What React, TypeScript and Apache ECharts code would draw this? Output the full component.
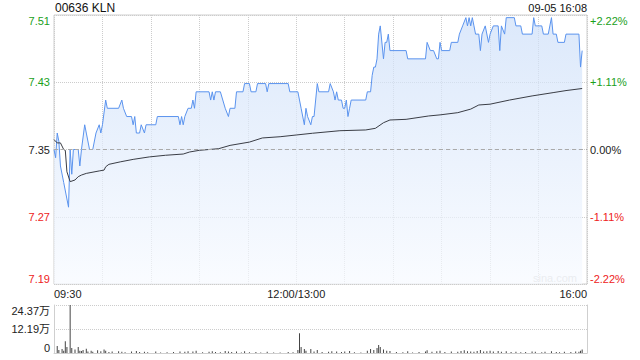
import React, { useEffect, useRef } from "react";
import * as echarts from "echarts";

const PREV_CLOSE = 7.35;
const HALF_RANGE = 0.1632;
const TITLE = "00636 KLN";
const STAMP = "09-05 16:08";
const WATERMARK = "sina.com";

const timeTickMinutes = [0, 150, 330];
const timeTickLabels = ["09:30", "12:00/13:00", "16:00"];

const priceMinutes = [
  0, 1, 2, 3, 4, 6, 8, 9, 10, 11, 12, 15, 16, 17, 19, 20, 22, 24, 26, 28, 29, 30, 32, 33, 40, 42, 43, 45, 48, 49,
  50, 51, 53, 54, 56, 57, 63, 64, 77, 78, 79, 80, 81, 83, 85, 86, 87, 88, 96, 97, 98, 99, 100, 103, 106, 108, 109,
  112, 113, 117, 118, 121, 122, 125, 126, 131, 132, 133, 145, 146, 151, 153, 155, 156, 157, 159, 160, 161, 163, 164,
  170, 171, 173, 174, 175, 176, 178, 179, 180, 181, 182, 183, 184, 193, 194, 196, 197, 198, 199, 200, 201, 202, 204,
  205, 206, 207, 208, 218, 219, 230, 231, 233, 235, 237, 238, 239, 240, 245, 246, 250, 251, 253, 255, 256, 257, 258,
  259, 260, 261, 263, 264, 265, 267, 269, 270, 272, 275, 276, 277, 279, 280, 285, 286, 289, 290, 296, 297, 298, 302,
  303, 306, 308, 309, 311, 312, 316, 317, 325, 326, 327,
];
const prices = [
  7.35, 7.34, 7.37, 7.36, 7.33, 7.31, 7.29, 7.28, 7.35, 7.32, 7.35, 7.35, 7.33, 7.35, 7.38, 7.37, 7.35, 7.35, 7.37,
  7.38, 7.37, 7.38, 7.41, 7.4, 7.4, 7.41, 7.4, 7.39, 7.39, 7.38, 7.39, 7.37, 7.37, 7.38, 7.37, 7.38, 7.38, 7.39,
  7.39, 7.38, 7.39, 7.38, 7.39, 7.4, 7.4, 7.41, 7.4, 7.42, 7.42, 7.41, 7.42, 7.41, 7.42, 7.42, 7.4, 7.39, 7.4, 7.4,
  7.42, 7.42, 7.43, 7.43, 7.42, 7.42, 7.43, 7.43, 7.42, 7.43, 7.43, 7.42, 7.42, 7.4, 7.38, 7.4, 7.39, 7.38, 7.39,
  7.39, 7.43, 7.42, 7.42, 7.43, 7.42, 7.41, 7.42, 7.41, 7.41, 7.4, 7.4, 7.41, 7.39, 7.4, 7.41, 7.41, 7.42, 7.42,
  7.44, 7.45, 7.45, 7.46, 7.49, 7.5, 7.46, 7.48, 7.48, 7.49, 7.47, 7.47, 7.46, 7.46, 7.48, 7.47, 7.47, 7.46, 7.46,
  7.48, 7.47, 7.47, 7.48, 7.48, 7.49, 7.5, 7.51, 7.5, 7.51, 7.5, 7.51, 7.5, 7.49, 7.49, 7.47, 7.49, 7.5, 7.48, 7.49,
  7.5, 7.5, 7.47, 7.5, 7.49, 7.51, 7.51, 7.5, 7.5, 7.49, 7.49, 7.51, 7.5, 7.5, 7.49, 7.49, 7.51, 7.49, 7.49, 7.48,
  7.48, 7.49, 7.49, 7.45, 7.47,
];

const avgMinutes = [
  0, 2, 4, 6, 7, 8, 10, 13, 15, 17, 20, 28, 31, 32, 34, 41, 49, 59, 69, 80, 84, 90, 102, 109, 121, 129, 140, 150,
  160, 177, 193, 199, 204, 208, 218, 232, 239, 250, 258, 263, 270, 282, 296, 309, 317, 327,
];
const avgPrices = [
  7.362, 7.358, 7.358, 7.35, 7.349, 7.323, 7.311, 7.313, 7.317, 7.319, 7.321, 7.324, 7.325, 7.329, 7.332, 7.335,
  7.338, 7.341, 7.343, 7.3445, 7.347, 7.349, 7.351, 7.355, 7.359, 7.364, 7.3655, 7.3676, 7.3697, 7.3728, 7.3737,
  7.3757, 7.3825, 7.3858, 7.3866, 7.3907, 7.392, 7.3947, 7.399, 7.404, 7.405, 7.41, 7.415, 7.419, 7.4215, 7.424,
];

const VOL_MAX = 243700;
const volMinutes = [
  2, 3, 5, 6, 7, 8, 10, 11, 13, 15, 16, 17, 18, 20, 21, 23, 24, 27, 29, 31, 32, 34, 36, 40, 42, 44, 48, 51, 53, 56,
  58, 63, 66, 70, 74, 78, 81, 83, 86, 88, 92, 96, 98, 100, 103, 106, 108, 110, 113, 116, 118, 121, 125, 128, 132,
  136, 140, 145, 148, 151, 152, 153, 155, 156, 159, 161, 163, 166, 170, 172, 175, 178, 180, 183, 186, 190, 194, 196,
  198, 200, 201, 202, 204, 206, 208, 212, 216, 219, 222, 226, 230, 231, 234, 237, 239, 242, 246, 250, 252, 254, 256,
  258, 260, 262, 264, 266, 268, 270, 272, 275, 277, 280, 283, 286, 289, 292, 296, 298, 302, 304, 308, 311, 313, 316,
  320, 323, 325, 326, 327,
];
const volValues = [
  35000, 15000, 20000, 12000, 60000, 30000, 243700, 25000, 18000, 30000, 12000, 10000, 15000, 22000, 8000, 12000, 6000,
  14000, 9000, 18000, 12000, 5000, 7000, 9000, 6000, 4000, 8000, 10000, 5000, 6000, 4000, 7000, 3000, 4000, 5000,
  8000, 6000, 9000, 7000, 12000, 4000, 6000, 9000, 5000, 4000, 10000, 7000, 5000, 8000, 3000, 9000, 4000, 5000, 3000,
  6000, 3000, 2000, 5000, 4000, 15000, 100000, 30000, 20000, 12000, 20000, 8000, 15000, 5000, 6000, 9000, 7000, 5000,
  8000, 10000, 4000, 3000, 12000, 20000, 15000, 25000, 40000, 30000, 18000, 12000, 10000, 5000, 4000, 9000, 3000,
  5000, 8000, 14000, 6000, 9000, 12000, 5000, 7000, 6000, 10000, 14000, 9000, 8000, 6000, 10000, 15000, 8000, 9000,
  12000, 7000, 10000, 6000, 9000, 5000, 6000, 4000, 5000, 8000, 6000, 4000, 6000, 9000, 5000, 4000, 6000, 5000, 7000,
  6000, 12000, 18000,
];

const FONT = '"Liberation Sans", Arial, "Noto Sans CJK SC", sans-serif';
const GREEN = "#1aa01a";
const RED = "#ee2222";
const BLACK = "#222";

function colorKey(v: number) {
  if (v > 1e-6) return "g";
  if (v < -1e-6) return "r";
  return "k";
}

export default function App() {
  const ref = useRef<HTMLDivElement>(null);
  useEffect(() => {
    if (!ref.current) return;
    const chart = echarts.init(ref.current, undefined, { renderer: "svg" });
    const rich = {
      g: { color: GREEN, fontSize: 11, fontFamily: FONT },
      r: { color: RED, fontSize: 11, fontFamily: FONT },
      k: { color: BLACK, fontSize: 11, fontFamily: FONT },
    };
    const priceData = priceMinutes.map((m, i) => [m, +(prices[i] - PREV_CLOSE).toFixed(4)]);
    const avgData = avgMinutes.map((m, i) => [m, +(avgPrices[i] - PREV_CLOSE).toFixed(4)]);
    const volData = volMinutes.map((m, i) => [m, volValues[i]]);
    chart.setOption({
      animation: false,
      backgroundColor: "#fff",
      textStyle: { fontFamily: FONT },
      grid: [
        { left: 54, right: 53, top: 15, height: 269, show: true, borderColor: "#cfcfcf", borderWidth: 1, backgroundColor: "transparent" },
        { left: 54, right: 53, top: 305, height: 48 },
      ],
      xAxis: [
        {
          type: "value",
          gridIndex: 0,
          min: 0,
          max: 330,
          interval: 30,
          axisLine: { show: false },
          axisTick: { show: false },
          splitLine: { show: true, lineStyle: { color: "#cccccc", type: "dotted", width: 1 } },
          axisLabel: {
            show: true,
            margin: 4,
            fontSize: 11,
            color: BLACK,
            fontFamily: FONT,
            showMinLabel: true,
            showMaxLabel: true,
            alignMinLabel: "left",
            alignMaxLabel: "right",
            formatter: (v: number) => {
              const idx = timeTickMinutes.indexOf(Math.round(v));
              return idx >= 0 ? timeTickLabels[idx] : "";
            },
          },
        },
        {
          type: "value",
          gridIndex: 1,
          min: 0,
          max: 330,
          axisLine: { show: true, lineStyle: { color: "#cfcfcf" } },
          axisTick: { show: false },
          axisLabel: { show: false },
          splitLine: { show: false },
        },
      ],
      yAxis: [
        {
          type: "value",
          gridIndex: 0,
          position: "left",
          min: -HALF_RANGE,
          max: HALF_RANGE,
          interval: HALF_RANGE / 2,
          axisLine: { show: false },
          axisTick: { show: false },
          splitLine: { show: true, lineStyle: { color: "#cccccc", type: "dotted" } },
          axisLabel: {
            margin: 4,
            fontSize: 11,
            verticalAlignMaxLabel: "top",
            verticalAlignMinLabel: "bottom",
            formatter: (v: number) => `{${colorKey(v)}|${(PREV_CLOSE + v).toFixed(2)}}`,
            rich,
          },
        },
        {
          type: "value",
          gridIndex: 0,
          position: "right",
          min: -HALF_RANGE,
          max: HALF_RANGE,
          interval: HALF_RANGE / 2,
          axisLine: { show: false },
          axisTick: { show: false },
          splitLine: { show: false },
          axisLabel: {
            margin: 3,
            fontSize: 11,
            verticalAlignMaxLabel: "top",
            verticalAlignMinLabel: "bottom",
            formatter: (v: number) => {
              const pct = (v / PREV_CLOSE) * 100;
              const key = colorKey(v);
              const s = (key === "g" ? "+" : "") + (Math.abs(pct) < 1e-6 ? "0.00" : pct.toFixed(2)) + "%";
              return `{${key}|${s}}`;
            },
            rich,
          },
        },
        {
          type: "value",
          gridIndex: 1,
          position: "left",
          min: 0,
          max: VOL_MAX,
          interval: VOL_MAX / 2,
          axisLine: { show: true, lineStyle: { color: "#cfcfcf" } },
          axisTick: { show: false },
          splitLine: { show: true, lineStyle: { color: "#cccccc", type: "dotted" } },
          axisLabel: {
            margin: 4,
            fontSize: 11,
            color: BLACK,
            fontFamily: FONT,
            verticalAlignMaxLabel: "top",
            verticalAlignMinLabel: "bottom",
            formatter: (v: number) => (v === 0 ? "0" : (v / 10000).toFixed(2) + "万"),
          },
        },
        {
          type: "value",
          gridIndex: 1,
          position: "right",
          min: 0,
          max: VOL_MAX,
          axisLine: { show: true, lineStyle: { color: "#cfcfcf" } },
          axisTick: { show: false },
          axisLabel: { show: false },
          splitLine: { show: false },
        },
      ],
      series: [
        {
          type: "line",
          xAxisIndex: 0,
          yAxisIndex: 0,
          data: priceData,
          showSymbol: false,
          symbol: "none",
          lineStyle: { color: "#5a93ee", width: 1 },
          areaStyle: {
            origin: "start",
            color: new echarts.graphic.LinearGradient(0, 0, 0, 1, [
              { offset: 0, color: "#cddff9" },
              { offset: 1, color: "#f7faff" },
            ]),
          },
          markLine: {
            silent: true,
            symbol: ["none", "none"],
            label: { show: false },
            lineStyle: { color: "#aaaaaa", type: [4, 3], width: 1 },
            data: [{ yAxis: 0 }],
          },
          z: 2,
        },
        {
          type: "line",
          xAxisIndex: 0,
          yAxisIndex: 0,
          data: avgData,
          showSymbol: false,
          symbol: "none",
          lineStyle: { color: "#3a3d45", width: 1 },
          z: 3,
        },
        {
          type: "bar",
          xAxisIndex: 1,
          yAxisIndex: 2,
          data: volData,
          barWidth: 1,
          itemStyle: { color: "#444" },
        },
      ],
      graphic: [
        { type: "text", x: 55, y: 8, style: { text: TITLE, font: `12px ${FONT}`, fill: "#111", verticalAlign: "middle" } },
        { type: "text", x: 587, y: 8, style: { text: STAMP, font: `11px ${FONT}`, fill: "#111", align: "right", verticalAlign: "middle" } },
        { type: "text", x: 577, y: 278, style: { text: WATERMARK, font: `11px ${FONT}`, fill: "#cccccc", align: "right", verticalAlign: "middle" } },
      ],
    });
    return () => chart.dispose();
  }, []);
  return (
    <div
      ref={ref}
      style={{ position: "fixed", left: 0, top: 0, width: 640, height: 360, background: "#fff" }}
    />
  );
}
